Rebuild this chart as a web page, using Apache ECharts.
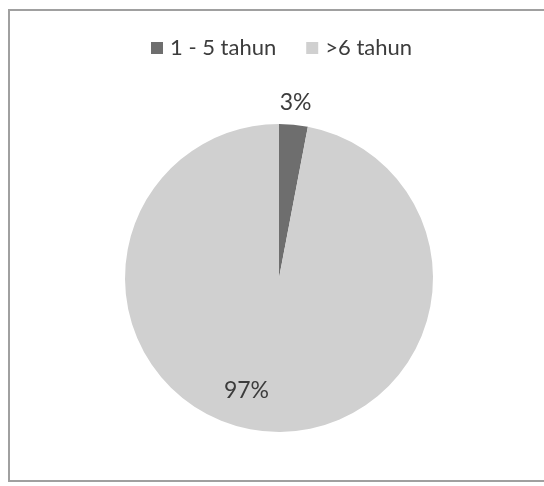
<!DOCTYPE html>
<html>
<head>
<meta charset="utf-8">
<script src="https://cdn.jsdelivr.net/npm/echarts@6/dist/echarts.min.js"></script>
<style>
html, body { margin: 0; padding: 0; background: #fff; }
#frame { position: absolute; left: 8px; top: 9px; width: 560px; height: 473px; border: 2px solid #a0a0a0; border-right: none; box-sizing: border-box; }
#chart { position: absolute; left: 0; top: 0; width: 544px; height: 486px; }
</style>
</head>
<body>
<div id="frame"></div>
<div id="chart"></div>
<script>
var categories = ['1 - 5 tahun', '>6 tahun'];
var values = [3, 97];
var colors = ['#6e6e6e', '#d0d0d0'];

var chart = echarts.init(document.getElementById('chart'));
var pieData = categories.map(function (name, i) {
    return { name: name, value: values[i], itemStyle: { color: colors[i] } };
});
// excel-ish label spots: small slice above the rim, big one low-left
pieData[0].label = { position: 'inside', offset: [9, -96] };
pieData[1].label = { position: 'inside', offset: [-25, 33] };

var options = {
    animation: false,
    textStyle: { fontFamily: 'Lato' },
    legend: {
        top: 37,
        left: 151,
        padding: 0,
        itemWidth: 12,
        itemHeight: 12,
        itemGap: 30,
        icon: 'rect',
        textStyle: { fontSize: 22, color: '#3c3c3c', fontFamily: 'Lato', padding: [0, 0, 0, 2] },
        data: categories
    },
    series: [
        {
            type: 'pie',
            center: [279, 278],
            radius: 154,
            startAngle: 90,
            clockwise: true,
            data: pieData,
            label: {
                show: true,
                formatter: '{c}%',
                fontSize: 23,
                color: '#3c3c3c',
                fontFamily: 'Lato'
            },
            labelLine: { show: false },
            itemStyle: { borderWidth: 0 },
            emphasis: { disabled: true }
        }
    ]
};

chart.setOption(options);
</script>
</body>
</html>
